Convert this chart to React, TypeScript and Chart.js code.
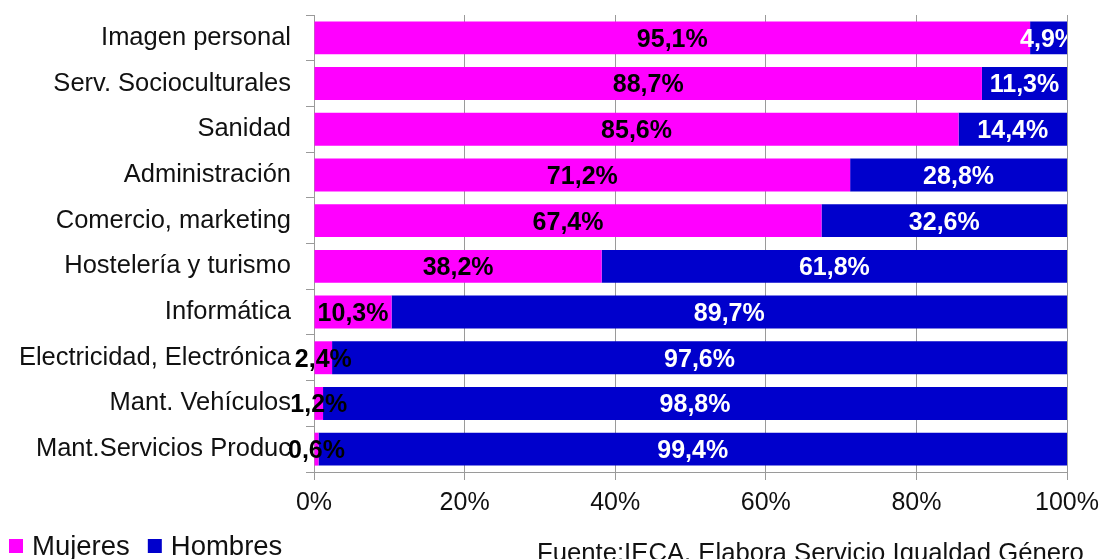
import React, { useEffect, useRef } from "react";
import { Chart, registerables } from "chart.js";

Chart.register(...registerables);

const categories = [
  "Imagen personal",
  "Serv. Socioculturales",
  "Sanidad",
  "Administración",
  "Comercio, marketing",
  "Hostelería y turismo",
  "Informática",
  "Electricidad, Electrónica",
  "Mant. Vehículos",
  "Mant.Servicios Produc",
];
const mujeres = [95.1, 88.7, 85.6, 71.2, 67.4, 38.2, 10.3, 2.4, 1.2, 0.6];
const hombres = [4.9, 11.3, 14.4, 28.8, 32.6, 61.8, 89.7, 97.6, 98.8, 99.4];
const xTicks = [0, 20, 40, 60, 80, 100];
const sourceText = "Fuente:IECA. Elabora Servicio Igualdad Género";

const FONT = "'Liberation Sans', Arial, sans-serif";
const MAGENTA = "#FF00FF";
const BLUE = "#0000CC";
const GRID = "#9a9a9a";

const fmt = (v: number) => v.toFixed(1).replace(".", ",") + "%";

const labelsPlugin = {
  id: "barLabels",
  afterDatasetsDraw(chart: any) {
    const { ctx, chartArea } = chart;
    ctx.save();
    ctx.beginPath();
    ctx.rect(0, 0, chartArea.right, chart.height);
    ctx.clip();
    ctx.font = `bold 25px ${FONT}`;
    ctx.textAlign = "center";
    ctx.textBaseline = "middle";
    chart.data.datasets.forEach((ds: any, di: number) => {
      const meta = chart.getDatasetMeta(di);
      ctx.fillStyle = ds.labelColor;
      meta.data.forEach((bar: any, i: number) => {
        const v = ds.data[i];
        const cx = (bar.x + bar.base) / 2;
        ctx.fillText(fmt(v), cx, bar.y + 2);
      });
    });
    ctx.restore();
  },
};

const legendPlugin = {
  id: "customLegendAndSource",
  afterDraw(chart: any) {
    const { ctx } = chart;
    ctx.save();
    ctx.font = `27.5px ${FONT}`;
    ctx.textBaseline = "middle";
    ctx.textAlign = "left";
    let x = 9;
    const cy = 546;
    chart.data.datasets.forEach((ds: any) => {
      ctx.fillStyle = ds.backgroundColor;
      ctx.fillRect(x, cy - 7, 14, 14);
      ctx.fillStyle = "#111";
      ctx.fillText(ds.label, x + 23, cy + 1);
      x += 23 + ctx.measureText(ds.label).width + 18;
    });
    ctx.font = `25.7px ${FONT}`;
    ctx.textBaseline = "alphabetic";
    ctx.fillStyle = "#111";
    ctx.fillText(sourceText, 537, 561);
    ctx.restore();
  },
};

export default function App() {
  const ref = useRef<HTMLCanvasElement | null>(null);
  useEffect(() => {
    if (!ref.current) return;
    const chart = new Chart(ref.current, {
      type: "bar",
      data: {
        labels: categories,
        datasets: [
          {
            label: "Mujeres",
            data: mujeres,
            backgroundColor: MAGENTA,
            labelColor: "#000",
            barPercentage: 0.72,
            categoryPercentage: 1,
          } as any,
          {
            label: "Hombres",
            data: hombres,
            backgroundColor: BLUE,
            labelColor: "#fff",
            barPercentage: 0.72,
            categoryPercentage: 1,
          } as any,
        ],
      },
      options: {
        indexAxis: "y",
        responsive: false,
        animation: false,
        layout: { padding: { top: 15, right: 37, left: 0, bottom: 47 } },
        plugins: {
          legend: { display: false },
          tooltip: { enabled: false },
        },
        scales: {
          x: {
            stacked: true,
            min: 0,
            max: 100,
            afterBuildTicks: (scale: any) => {
              scale.ticks = xTicks.map((v) => ({ value: v }));
            },
            afterFit: (scale: any) => {
              scale.height = 40;
              scale.paddingLeft = 0;
              scale.paddingRight = 0;
            },
            ticks: {
              callback: (v: any) => v + "%",
              font: { family: FONT, size: 25 },
              color: "#111",
              padding: 8,
              maxRotation: 0,
            },
            grid: { color: GRID, lineWidth: 1, tickLength: 8 },
            border: { color: GRID },
          },
          y: {
            stacked: true,
            afterFit: (scale: any) => {
              scale.width = 314;
              scale.paddingTop = 0;
              scale.paddingBottom = 0;
            },
            ticks: {
              font: { family: FONT, size: 25.5 },
              color: "#111",
              padding: 15,
            },
            grid: {
              drawOnChartArea: false,
              offset: true,
              tickLength: 8,
              color: GRID,
            },
            border: { color: GRID },
          },
        },
      },
      plugins: [labelsPlugin, legendPlugin],
    });
    return () => chart.destroy();
  }, []);
  return (
    <div style={{ position: "fixed", left: 0, top: 0, width: 1104, height: 559, background: "#fff" }}>
      <canvas ref={ref} width={1104} height={559} />
    </div>
  );
}
